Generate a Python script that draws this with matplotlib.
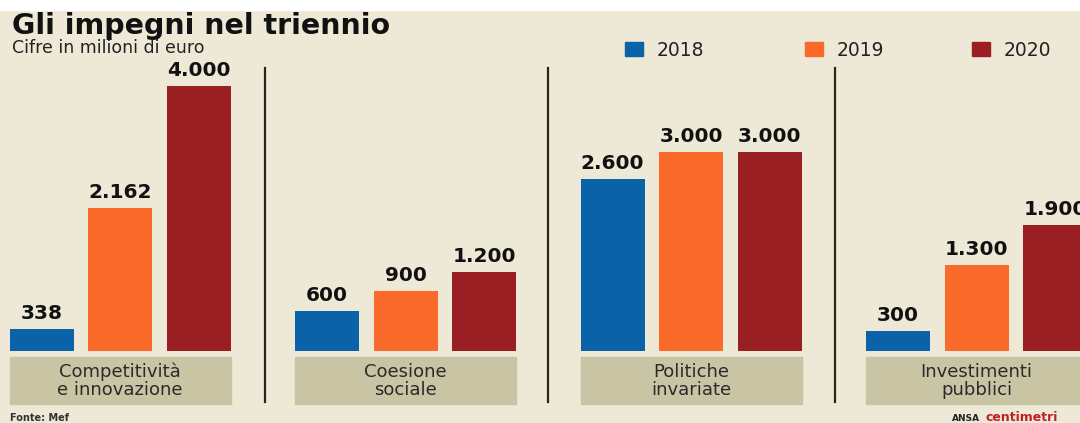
import matplotlib.pyplot as plt
from matplotlib.patches import Rectangle
import numpy as np

categorie = ["Competitività\ne innovazione", "Coesione\nsociale", "Politiche\ninvariate", "Investimenti\npubblici"]
anni = ["2018", "2019", "2020"]
v2018 = [338, 600, 2600, 300]
v2019 = [2162, 900, 3000, 1300]
v2020 = [4000, 1200, 3000, 1900]
etichette = [["338", "2.162", "4.000"], ["600", "900", "1.200"],
             ["2.600", "3.000", "3.000"], ["300", "1.300", "1.900"]]

colori = ["#0A63A8", "#F96A2B", "#991F22"]
sfondo = "#EEE8D6"
box = "#C9C5A4"

W, H = 1080, 423
fig = plt.figure(figsize=(W / 100, H / 100), dpi=100, facecolor=sfondo)
ax = fig.add_axes([0, 0, 1, 1])
ax.set_facecolor(sfondo)

# scala: baseline a 351 px dall'alto, 4000 -> 265 px
px = 265 / 4000
base = H - 351
ax.set_xlim(0, W)
ax.set_ylim(-base / px, (H - base) / px)
ax.axis("off")

passo_g = 285.5
passo_b = 78.5
x0 = 41.5
larg = 64
serie = [v2018, v2019, v2020]
for g in range(len(categorie)):
    for i, s in enumerate(serie):
        xc = x0 + g * passo_g + i * passo_b
        ax.bar(xc, s[g], width=larg, color=colori[i], edgecolor="none")
        ax.text(xc, s[g] + 6 / px, etichette[g][i], ha="center", va="bottom",
                fontsize=14.5, fontweight="bold", color="#111111")
    # box etichetta
    xl = x0 + g * passo_g - larg / 2
    xr = xl + 2 * passo_b + larg
    fig.patches.append(Rectangle((xl / W, (H - 404) / H), (xr - xl) / W, 47 / H,
                                 transform=fig.transFigure, color=box, zorder=1))
    fig.text((xl + xr) / 2 / W, (H - 381) / H, categorie[g], ha="center", va="center",
             fontsize=13, color="#2a2a2a", linespacing=1.0, zorder=2)

# separatori
for xs in [265, 548, 835]:
    fig.add_artist(plt.Line2D([xs / W, xs / W], [(H - 402) / H, (H - 68) / H],
                              color="#2a2520", lw=1.6))

# striscia bianca in alto
fig.patches.append(Rectangle((0, (H - 10) / H), 1, 10 / H, transform=fig.transFigure,
                             color="white", zorder=0))

fig.text(12 / W, (H - 34) / H, "Gli impegni nel triennio", fontsize=20.5,
         fontweight="bold", color="#111111", va="baseline")
fig.text(12 / W, (H - 53) / H, "Cifre in milioni di euro", fontsize=12.5,
         color="#222222", va="baseline")

# legenda
for xq, anno, c in zip([625, 805, 972], anni, colori):
    fig.patches.append(Rectangle((xq / W, (H - 56) / H), 18 / W, 14 / H,
                                 transform=fig.transFigure, color=c))
    fig.text((xq + 32) / W, (H - 56) / H, anno, fontsize=13.5, color="#222222",
             va="baseline")

fig.text(10 / W, (H - 421) / H, "Fonte: Mef", fontsize=7, fontweight="bold",
         color="#333333", va="baseline")
fig.text(952 / W, (H - 421) / H, "ANSA", fontsize=6.5, fontweight="bold",
         color="#222222", va="baseline")
fig.text(985 / W, (H - 421) / H, "centimetri", fontsize=9, fontweight="bold",
         color="#C0202A", va="baseline")

fig.savefig("out.png", dpi=100, facecolor=sfondo)
